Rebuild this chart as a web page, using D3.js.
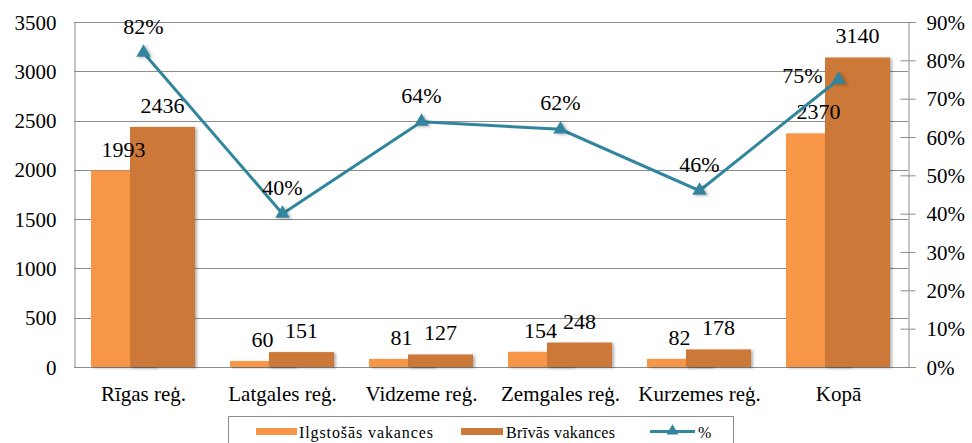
<!DOCTYPE html>
<html>
<head>
<meta charset="utf-8">
<script src="https://cdn.jsdelivr.net/npm/d3@7"></script>
<style>
  body { margin: 0; background: #fff; }
</style>
</head>
<body>
<div id="chart"></div>
<script>
const regions = ["Rīgas reģ.", "Latgales reģ.", "Vidzeme reģ.", "Zemgales reģ.", "Kurzemes reģ.", "Kopā"];
const longTerm = [1993, 60, 81, 154, 82, 2370];      // Ilgstošās vakances
const openVac = [2436, 151, 127, 248, 178, 3140];    // Brīvās vakances
const share = [0.82, 0.40, 0.64, 0.62, 0.46, 0.75];  // %
const leftTicks = [0, 500, 1000, 1500, 2000, 2500, 3000, 3500];
const rightTicks = [0, 0.1, 0.2, 0.3, 0.4, 0.5, 0.6, 0.7, 0.8, 0.9];

const W = 972, H = 443;
const m = { t: 22, r: 64, b: 76, l: 74 };
const orange = "#F79646", brown = "#CB7838", teal = "#31859C", grid = "#8c8c8c";
const serif = "Tinos, 'Liberation Serif', 'DejaVu Serif', 'Noto Serif', serif";

const svg = d3.select("#chart").append("svg").attr("width", W).attr("height", H)
  .attr("font-family", serif);

const defs = svg.append("defs");
const shadow = defs.append("filter").attr("id", "shadow")
  .attr("x", "-20%").attr("y", "-20%").attr("width", "150%").attr("height", "150%");
shadow.append("feDropShadow").attr("dx", 2).attr("dy", 1).attr("stdDeviation", 1.5)
  .attr("flood-color", "#000").attr("flood-opacity", 0.3);

const x = d3.scaleBand().domain(regions).range([m.l, W - m.r]);
const y = d3.scaleLinear().domain([0, 3500]).range([H - m.b, m.t]);
const y2 = d3.scaleLinear().domain([0, 0.9]).range([H - m.b, m.t]);

// gridlines
svg.append("g").selectAll("line").data(leftTicks.slice(1)).join("line")
  .attr("x1", m.l).attr("x2", W - m.r)
  .attr("y1", (d) => Math.round(y(d)) + 0.5).attr("y2", (d) => Math.round(y(d)) + 0.5)
  .attr("stroke", grid).attr("stroke-width", 1);

// left axis
const leftAxis = svg.append("g").attr("transform", `translate(${m.l + 0.5},0)`)
  .call(d3.axisLeft(y).tickValues(leftTicks).tickSize(0).tickPadding(18).tickFormat(d3.format("d")));
leftAxis.attr("font-family", serif).attr("font-size", 21);
leftAxis.select(".domain").attr("stroke", grid);
leftAxis.selectAll("text").attr("dy", "0.34em");

// right axis
const rightAxis = svg.append("g").attr("transform", `translate(${W - m.r + 0.5},0)`)
  .call(d3.axisRight(y2).tickValues(rightTicks).tickSize(7).tickPadding(11).tickFormat(d3.format(".0%")));
rightAxis.attr("font-family", serif).attr("font-size", 21);
rightAxis.select(".domain").attr("stroke", grid);
rightAxis.selectAll(".tick line").attr("x1", -8).attr("stroke", grid);
rightAxis.selectAll("text").attr("dy", "0.34em");

// bottom axis
svg.append("line").attr("x1", m.l).attr("x2", W - m.r)
  .attr("y1", Math.round(y(0)) + 0.5).attr("y2", Math.round(y(0)) + 0.5).attr("stroke", grid);
svg.append("g").attr("font-size", 21).selectAll("text").data(regions).join("text")
  .attr("x", (d) => x(d) + x.bandwidth() / 2)
  .attr("y", H - m.b + 34)
  .attr("text-anchor", "middle").text((d) => d);

// bars
const barW = 65;
const series = [
  { values: longTerm, color: orange, off: -20 },
  { values: openVac, color: brown, off: 19 },
];
series.forEach((s) => {
  svg.append("g").selectAll("rect").data(s.values).join("rect")
    .attr("x", (d, i) => x(regions[i]) + x.bandwidth() / 2 + s.off - barW / 2)
    .attr("y", (d) => y(d))
    .attr("width", barW)
    .attr("height", (d) => y(0) - y(d))
    .attr("fill", s.color)
    .attr("filter", "url(#shadow)");
});
series.forEach((s) => {
  svg.append("g").attr("font-size", 22).selectAll("text").data(s.values).join("text")
    .attr("x", (d, i) => x(regions[i]) + x.bandwidth() / 2 + s.off)
    .attr("y", (d) => y(d) - 14)
    .attr("text-anchor", "middle").text((d) => d);
});

// line
const pts = share.map((v, i) => [x(regions[i]) + x.bandwidth() / 2, y2(v)]);
svg.append("path").attr("d", d3.line()(pts))
  .attr("fill", "none").attr("stroke", teal).attr("stroke-width", 3);
svg.append("g").selectAll("path").data(pts).join("path")
  .attr("transform", (d) => `translate(${d[0]},${d[1]})`)
  .attr("d", d3.symbol(d3.symbolTriangle, 90))
  .attr("fill", teal).attr("filter", "url(#shadow)");
svg.append("g").attr("font-size", 22).selectAll("text").data(share).join("text")
  .attr("x", (d, i) => (i === 5 ? pts[i][0] - 16 : pts[i][0]))
  .attr("y", (d, i) => (i === 5 ? pts[i][1] + 3 : pts[i][1] - 19))
  .attr("text-anchor", (d, i) => (i === 5 ? "end" : "middle"))
  .text((d) => d3.format(".0%")(d));

// legend
const lg = svg.append("g").attr("font-size", 16);
lg.append("rect").attr("x", 228.5).attr("y", 416.5).attr("width", 505).attr("height", 40)
  .attr("fill", "#fff").attr("stroke", grid);
lg.append("rect").attr("x", 256).attr("y", 428).attr("width", 41).attr("height", 7).attr("fill", orange);
lg.append("text").attr("x", 299).attr("y", 438).attr("textLength", 134).text("Ilgstošās vakances");
lg.append("rect").attr("x", 461).attr("y", 428).attr("width", 42).attr("height", 7).attr("fill", brown);
lg.append("text").attr("x", 506).attr("y", 438).attr("textLength", 109).text("Brīvās vakances");
lg.append("line").attr("x1", 650).attr("x2", 695).attr("y1", 431.5).attr("y2", 431.5)
  .attr("stroke", teal).attr("stroke-width", 3);
lg.append("path").attr("transform", "translate(672.5,431)")
  .attr("d", d3.symbol(d3.symbolTriangle, 60)).attr("fill", teal);
lg.append("text").attr("x", 698).attr("y", 438).text("%");
</script>
</body>
</html>
